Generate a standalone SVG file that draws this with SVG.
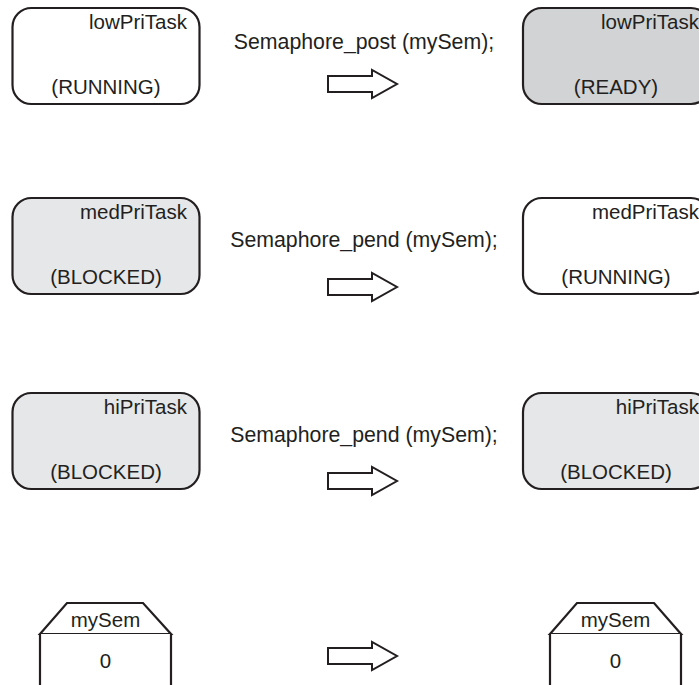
<svg xmlns="http://www.w3.org/2000/svg" width="699" height="685" viewBox="0 0 699 685">
<defs>
<style>
.box{stroke:#231f20;stroke-width:2.2;}
.w{fill:#ffffff;}
.g1{fill:#d1d3d4;}
.g2{fill:#e6e7e8;}
text{font-family:"Liberation Sans",Arial,sans-serif;font-size:20.5px;fill:#231f20;}
.r{text-anchor:end;}
.m{text-anchor:middle;}
.op{font-size:21.3px;}
.arrow{fill:#ffffff;stroke:#231f20;stroke-width:2;stroke-linejoin:miter;}
.sem{fill:#ffffff;stroke:#231f20;stroke-width:2.2;}
</style>
<path id="arr" d="M0,6 H44 V0 L69,14 L44,28 V22 H0 Z"/>
</defs>
<rect width="699" height="685" fill="#ffffff"/>

<g id="lowPriTask-before">
<rect class="box w" x="12.5" y="8" width="187" height="96" rx="19"/>
<text class="r" x="187" y="29">lowPriTask</text>
<text class="m" x="106" y="94">(RUNNING)</text>
</g>
<g id="lowPriTask-after">
<rect class="box g1" x="523" y="8" width="187" height="96" rx="19"/>
<text class="r" x="699" y="29">lowPriTask</text>
<text class="m" x="616" y="94">(READY)</text>
</g>

<g id="medPriTask-before">
<rect class="box g2" x="12.5" y="198" width="187" height="96" rx="19"/>
<text class="r" x="187" y="219">medPriTask</text>
<text class="m" x="106" y="284">(BLOCKED)</text>
</g>
<g id="medPriTask-after">
<rect class="box w" x="523" y="198" width="187" height="96" rx="19"/>
<text class="r" x="699" y="219">medPriTask</text>
<text class="m" x="616" y="284">(RUNNING)</text>
</g>

<g id="hiPriTask-before">
<rect class="box g2" x="12.5" y="393" width="187" height="96" rx="19"/>
<text class="r" x="187" y="414">hiPriTask</text>
<text class="m" x="106" y="479">(BLOCKED)</text>
</g>
<g id="hiPriTask-after">
<rect class="box g2" x="523" y="393" width="187" height="96" rx="19"/>
<text class="r" x="699" y="414">hiPriTask</text>
<text class="m" x="616" y="479">(BLOCKED)</text>
</g>

<g id="mySem-before">
<path class="sem" d="M40,634 L67,603 H143 L171,634 Z"/>
<path class="sem" d="M40,634 V690 H171 V634"/>
<text class="m" x="105.5" y="627">mySem</text>
<text class="m" x="105.5" y="668">0</text>
</g>
<g id="mySem-after">
<path class="sem" d="M550,634 L577,603 H654 L681,634 Z"/>
<path class="sem" d="M550,634 V690 H681 V634"/>
<text class="m" x="615.5" y="627">mySem</text>
<text class="m" x="615.5" y="668">0</text>
</g>

<g id="connectors">
<text class="m op" x="364" y="49">Semaphore_post (mySem);</text>
<use href="#arr" class="arrow" x="328" y="70"/>
<text class="m op" x="364" y="247">Semaphore_pend (mySem);</text>
<use href="#arr" class="arrow" x="328" y="273"/>
<text class="m op" x="364" y="442">Semaphore_pend (mySem);</text>
<use href="#arr" class="arrow" x="328" y="467"/>
<use href="#arr" class="arrow" x="328" y="642"/>
</g>
</svg>
